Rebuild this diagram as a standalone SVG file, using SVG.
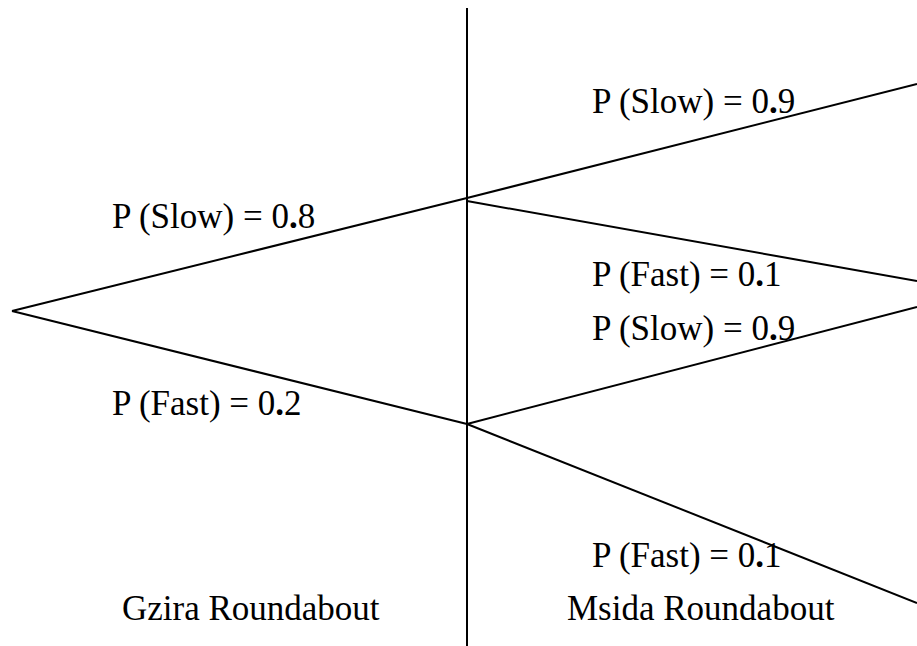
<svg xmlns="http://www.w3.org/2000/svg" width="917" height="646" viewBox="0 0 917 646">
<style>
.l{stroke:#000;stroke-width:2;fill:none}
.t{font-family:"Liberation Serif","Times New Roman",serif;font-size:35px;fill:#000}
.b{font-weight:bold}
</style>
<rect width="917" height="646" fill="#fff"/>
<g id="connectors">
<line class="l" x1="467" y1="8" x2="467" y2="646"/>
<line class="l" x1="12" y1="311" x2="467" y2="198"/>
<line class="l" x1="12" y1="311" x2="467" y2="424"/>
<line class="l" x1="467" y1="198" x2="917" y2="84"/>
<line class="l" x1="467" y1="201" x2="917" y2="281"/>
<line class="l" x1="467" y1="424" x2="917" y2="307"/>
<line class="l" x1="467" y1="424" x2="917" y2="603"/>
</g>
<g id="label-slow-08"><text class="t" x="112" y="228">P (Slow) = 0<tspan class="b">.</tspan>8</text></g>
<g id="label-fast-02"><text class="t" x="112" y="415">P (Fast) = 0<tspan class="b">.</tspan>2</text></g>
<g id="label-slow-09a"><text class="t" x="592" y="113">P (Slow) = 0<tspan class="b">.</tspan>9</text></g>
<g id="label-fast-01a"><text class="t" x="592" y="286">P (Fast) = 0<tspan class="b">.</tspan>1</text></g>
<g id="label-slow-09b"><text class="t" x="592" y="340">P (Slow) = 0<tspan class="b">.</tspan>9</text></g>
<g id="label-fast-01b"><text class="t" x="592" y="567">P (Fast) = 0<tspan class="b">.</tspan>1</text></g>
<g id="gzira"><text class="t" x="122" y="620">Gzira Roundabout</text></g>
<g id="msida"><text class="t" x="567" y="620">Msida Roundabout</text></g>
</svg>
